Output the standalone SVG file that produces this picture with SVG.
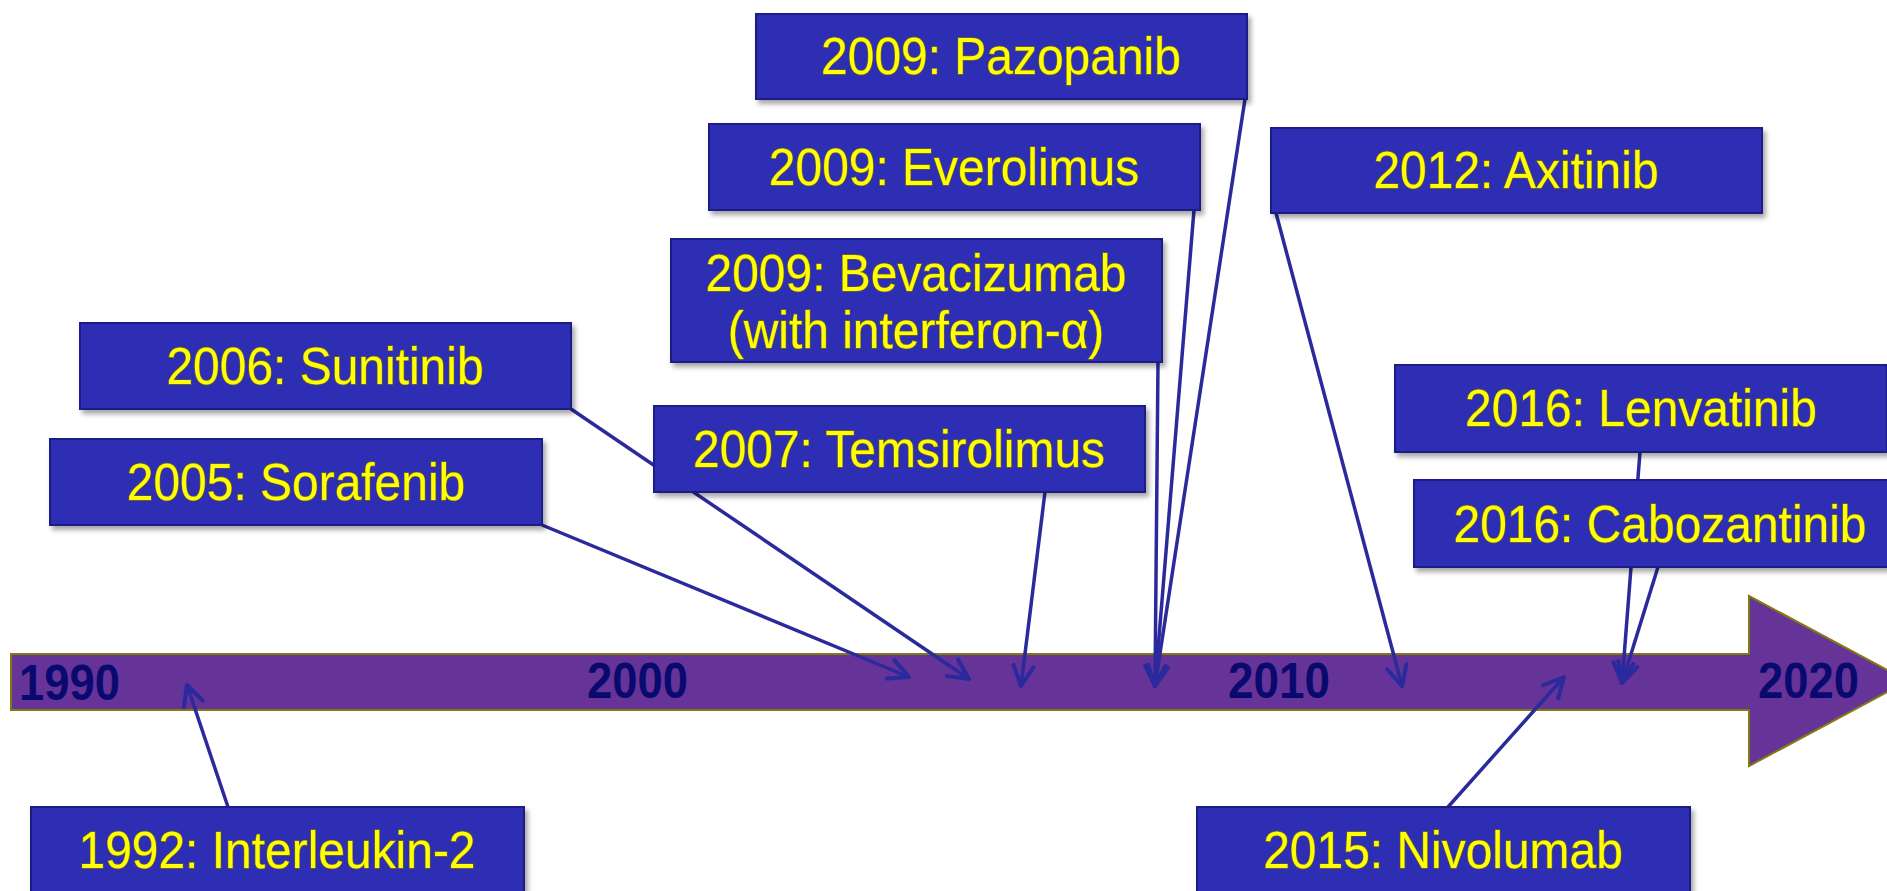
<svg xmlns="http://www.w3.org/2000/svg" width="1887" height="891" viewBox="0 0 1887 891">
<style>
.box{fill:#2f2db5;stroke:#1e1c86;stroke-width:2}
.lbl{font-family:"Liberation Sans",Arial,sans-serif;font-size:51px;fill:#ffff00;stroke:#6e6a20;stroke-width:1.4;paint-order:stroke;text-anchor:middle}
.yr{font-family:"Liberation Sans",Arial,sans-serif;font-size:50px;font-weight:bold;fill:#0a0a6e}
.con{stroke:#2a2a9c;stroke-width:3.5;fill:none;marker-end:url(#ah)}
</style>
<defs>
<filter id="sh" x="-5%" y="-20%" width="115%" height="150%">
<feDropShadow dx="3" dy="4" stdDeviation="2.5" flood-color="#000" flood-opacity="0.35"/>
</filter>
<marker id="ah" viewBox="0 0 28 28" refX="24" refY="14" markerWidth="28" markerHeight="28" markerUnits="userSpaceOnUse" orient="auto">
<path d="M4,4 L24,14 L4,24" fill="none" stroke="#2a2a9c" stroke-width="4" stroke-linecap="round" stroke-linejoin="round"/>
</marker>
</defs>
<rect width="1887" height="891" fill="#ffffff"/>
<g id="timeline">
<polygon points="11,654 1749,654 1749,596 1908,681 1749,766 1749,710 11,710" fill="#663399" stroke="#807a10" stroke-width="2"/>
<text class="yr" x="19" y="700" textLength="101" lengthAdjust="spacingAndGlyphs">1990</text>
<text class="yr" x="587" y="698" textLength="101" lengthAdjust="spacingAndGlyphs">2000</text>
<text class="yr" x="1228" y="698" textLength="102" lengthAdjust="spacingAndGlyphs">2010</text>
<text class="yr" x="1758" y="698" textLength="101" lengthAdjust="spacingAndGlyphs">2020</text>
</g>
<g id="connectors">
<line class="con" x1="228" y1="807" x2="187" y2="685"/>
<line class="con" x1="542" y1="525" x2="909" y2="677"/>
<line class="con" x1="571" y1="409" x2="969" y2="679"/>
<line class="con" x1="1045" y1="492" x2="1021" y2="686"/>
<line class="con" x1="1158" y1="362" x2="1155" y2="686"/>
<line class="con" x1="1194" y1="210" x2="1155" y2="686"/>
<line class="con" x1="1245" y1="99" x2="1155" y2="686"/>
<line class="con" x1="1276" y1="213" x2="1402" y2="686"/>
<line class="con" x1="1640" y1="452" x2="1622" y2="683"/>
<line class="con" x1="1658" y1="567" x2="1622" y2="683"/>
<line class="con" x1="1448" y1="807" x2="1564" y2="677"/>
</g>
<g id="pazopanib" filter="url(#sh)"><rect class="box" x="756" y="14" width="491" height="85"/><text class="lbl" transform="translate(1001,74) scale(0.94,1)">2009: Pazopanib</text></g>
<g id="everolimus" filter="url(#sh)"><rect class="box" x="709" y="124" width="491" height="86"/><text class="lbl" transform="translate(954,185) scale(0.94,1)">2009: Everolimus</text></g>
<g id="bevacizumab" filter="url(#sh)"><rect class="box" x="671" y="239" width="491" height="123"/><text class="lbl" transform="translate(916,291) scale(0.94,1)">2009: Bevacizumab</text><text class="lbl" transform="translate(916,348) scale(0.94,1)">(with interferon-α)</text></g>
<g id="temsirolimus" filter="url(#sh)"><rect class="box" x="654" y="406" width="491" height="86"/><text class="lbl" transform="translate(899,467) scale(0.94,1)">2007: Temsirolimus</text></g>
<g id="sunitinib" filter="url(#sh)"><rect class="box" x="80" y="323" width="491" height="86"/><text class="lbl" transform="translate(325,384) scale(0.94,1)">2006: Sunitinib</text></g>
<g id="sorafenib" filter="url(#sh)"><rect class="box" x="50" y="439" width="492" height="86"/><text class="lbl" transform="translate(296,500) scale(0.94,1)">2005: Sorafenib</text></g>
<g id="axitinib" filter="url(#sh)"><rect class="box" x="1271" y="128" width="491" height="85"/><text class="lbl" transform="translate(1516,188) scale(0.94,1)">2012: Axitinib</text></g>
<g id="lenvatinib" filter="url(#sh)"><rect class="box" x="1395" y="365" width="492" height="87"/><text class="lbl" transform="translate(1641,426) scale(0.94,1)">2016: Lenvatinib</text></g>
<g id="cabozantinib" filter="url(#sh)"><rect class="box" x="1414" y="480" width="492" height="87"/><text class="lbl" transform="translate(1660,542) scale(0.94,1)">2016: Cabozantinib</text></g>
<g id="interleukin2" filter="url(#sh)"><rect class="box" x="31" y="807" width="493" height="100"/><text class="lbl" transform="translate(277,868) scale(0.94,1)">1992: Interleukin-2</text></g>
<g id="nivolumab" filter="url(#sh)"><rect class="box" x="1197" y="807" width="493" height="100"/><text class="lbl" transform="translate(1443,868) scale(0.94,1)">2015: Nivolumab</text></g>
</svg>
